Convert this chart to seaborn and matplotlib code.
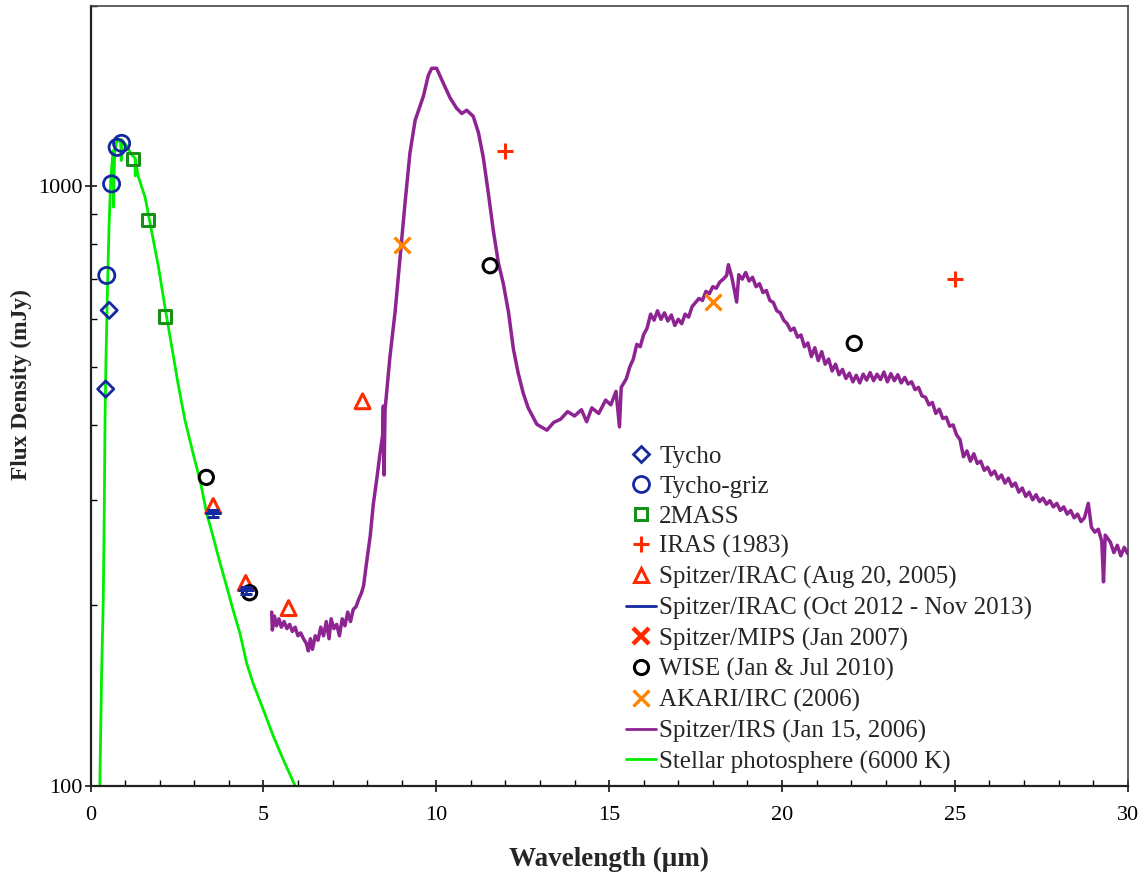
import matplotlib
matplotlib.use("Agg")
import matplotlib.pyplot as plt
from matplotlib.lines import Line2D
from matplotlib.ticker import FixedLocator, NullFormatter, MultipleLocator
import seaborn as sns
import numpy as np

# ---------------- photometry (wavelength in um, flux density in mJy) ----------------
tycho_wl = [0.44, 0.54]
tycho_flux = [459, 621]

griz_wl = [0.47, 0.61, 0.77, 0.90]
griz_flux = [710, 1009, 1161, 1179]

tmass_wl = [1.235, 1.662, 2.159]
tmass_flux = [1111, 879, 607]

iras_wl = [12.0, 25.0]
iras_flux = [1147, 701]

irac05_wl = [3.55, 4.49, 5.73, 7.87]
irac05_flux = [293, 218, 198, 438]

irac13_wl = [3.55, 4.49]
irac13_flux = [285, 212]
irac13_err = [4, 3]

mips_wl = []
mips_flux = []

wise_wl = [3.35, 4.60, 11.56, 22.09]
wise_flux = [327, 210, 737, 547]

akari_wl = [9.0, 18.0]
akari_flux = [799, 640]

# ---------------- Spitzer/IRS spectrum ----------------
irs_wl = [5.24, 5.26, 5.32, 5.38, 5.45, 5.52, 5.60, 5.68, 5.76, 5.84, 5.92, 6.00, 6.08, 6.16,
          6.24, 6.30, 6.36, 6.42, 6.50, 6.58, 6.66, 6.74, 6.82, 6.90, 6.96, 7.04, 7.12, 7.20,
          7.28, 7.36, 7.44, 7.52, 7.60, 7.68, 7.76, 7.84, 7.90, 7.99, 8.09, 8.18, 8.28, 8.37,
          8.45, 8.47, 8.49, 8.52, 8.66, 8.81, 8.95, 9.10, 9.24, 9.39, 9.63, 9.77, 9.87, 10.01,
          10.21, 10.40, 10.59, 10.74, 10.88, 11.07, 11.22, 11.36, 11.51, 11.65, 11.80, 11.94,
          12.09, 12.23, 12.37, 12.52, 12.66, 12.91,
          13.00, 13.20, 13.40, 13.60, 13.80, 14.00, 14.20, 14.35, 14.50, 14.70, 14.90, 15.05,
          15.20, 15.30, 15.35, 15.50, 15.60, 15.70, 15.80, 15.90, 16.00, 16.10, 16.20, 16.30,
          16.40, 16.50, 16.60, 16.70, 16.80, 16.90, 17.00, 17.10, 17.20, 17.30, 17.40, 17.50,
          17.60, 17.70, 17.80, 17.90, 18.00, 18.10, 18.20, 18.30, 18.40, 18.45, 18.55, 18.69,
          18.75, 18.85, 18.95, 19.05, 19.15, 19.25, 19.35, 19.45, 19.55, 19.65, 19.75, 19.85,
          19.95, 20.05, 20.15, 20.25, 20.35, 20.45, 20.55, 20.65, 20.75, 20.85, 20.95, 21.05,
          21.15, 21.25, 21.35, 21.45, 21.55, 21.65, 21.75, 21.85, 21.95, 22.05, 22.15, 22.25,
          22.35, 22.45, 22.55, 22.65, 22.75, 22.85, 22.95, 23.05, 23.15, 23.25, 23.35, 23.45,
          23.55, 23.65, 23.75, 23.85, 23.95, 24.05, 24.15, 24.25, 24.35, 24.45, 24.55, 24.65,
          24.75, 24.85, 24.95, 25.05, 25.15, 25.25, 25.35, 25.45, 25.55, 25.65, 25.75, 25.85,
          25.95, 26.05, 26.15, 26.25, 26.35, 26.45, 26.55, 26.65, 26.75, 26.85, 26.95, 27.05,
          27.15, 27.25, 27.35, 27.45, 27.55, 27.65, 27.75, 27.85, 27.95, 28.05, 28.15, 28.25,
          28.35, 28.45, 28.55, 28.65, 28.75, 28.86, 28.95, 29.05, 29.15, 29.25, 29.30, 29.35,
          29.50, 29.60, 29.70, 29.80, 29.90, 30.00]
irs_flux = [195, 182, 192, 185, 190, 184, 188, 183, 186, 181, 184, 178, 180, 176,
            173, 168, 176, 169, 178, 175, 184, 178, 188, 176, 190, 183, 186, 178,
            190, 185, 195, 188, 197, 199, 205, 210, 216, 237, 261, 295, 325, 357,
            385, 430, 330, 424, 519, 617, 756, 941, 1137, 1288, 1414, 1530, 1573, 1573,
            1483, 1404, 1349, 1322, 1339, 1308, 1229, 1118, 971, 844, 744, 688,
            617, 536, 488, 451, 427, 401,
            398, 392, 404, 409, 421, 414, 424, 405, 427, 418, 440, 432,
            455, 397, 462, 478, 500, 515, 545, 540, 566, 580, 612, 598,
            620, 600, 615, 596, 610, 586, 600, 590, 612, 605, 630, 640,
            650, 645, 668, 662, 680, 676, 692, 700, 710, 740, 705, 641,
            712, 700, 718, 695, 705, 680, 688, 665, 670, 645, 640, 620,
            615, 598, 590, 575, 580, 560, 565, 540, 548, 520, 538, 512,
            530, 505, 515, 492, 505, 485, 495, 478, 488, 472, 484, 470,
            486, 475, 489, 474, 486, 476, 490, 472, 487, 474, 485, 470,
            480, 468, 472, 458, 462, 447, 445, 432, 436, 418, 425, 410,
            412, 398, 400, 385, 378, 354, 362, 348, 358, 345, 348, 336,
            340, 330, 335, 325, 330, 320, 326, 316, 320, 309, 314, 304,
            309, 300, 306, 298, 302, 295, 299, 292, 296, 288, 292, 284,
            288, 280, 284, 276, 280, 296, 270, 265, 268, 256, 219, 262,
            255, 245, 252, 242, 250, 244]

# ---------------- 6000 K stellar photosphere model ----------------
phot_wl = [0.27, 0.32, 0.37, 0.40, 0.42, 0.45, 0.49, 0.535, 0.59, 0.64, 0.66, 0.665, 0.70,
           0.76, 0.86, 0.88, 0.89, 0.90, 1.05, 1.19, 1.29, 1.295, 1.30, 1.38, 1.58, 1.77,
           1.96, 2.16, 2.35, 2.54, 2.73, 2.97, 3.17, 3.36, 3.55, 3.75, 3.94, 4.13, 4.32,
           4.52, 4.71, 5.00, 5.29, 5.58, 5.92]
phot_flux = [100, 153, 205, 294, 409, 522, 668, 855, 1039, 1120, 1147, 923, 1150,
             1186, 1195, 1161, 1104, 1196, 1167, 1129, 1114, 1040, 1105, 1039, 958, 840,
             737, 626, 540, 466, 408, 358, 323, 285, 260, 235, 215, 196, 180,
             160, 148, 134, 121, 110.5, 100]

labels = ["Tycho", "Tycho-griz", "2MASS", "IRAS (1983)", "Spitzer/IRAC (Aug 20, 2005)",
          "Spitzer/IRAC (Oct 2012 - Nov 2013)", "Spitzer/MIPS (Jan 2007)",
          "WISE (Jan & Jul 2010)", "AKARI/IRC (2006)", "Spitzer/IRS (Jan 15, 2006)",
          "Stellar photosphere (6000 K)"]

c_blue = "#1428a0"
c_green = "#169016"
c_red = "#ff2a00"
c_orange = "#ff8400"
c_purple = "#8e2392"
c_lime = "#00ee00"

sns.set_style("ticks")
plt.rcParams["font.family"] = ["Liberation Serif", "DejaVu Serif"]

fig = plt.figure(figsize=(11.48, 8.82), dpi=100)
ax = fig.add_axes([90.5 / 1148, 1 - 786 / 882, (1127.7 - 90.5) / 1148, (786 - 5.7) / 882])

# continuous curves
sns.lineplot(x=irs_wl, y=irs_flux, sort=False, color=c_purple, linewidth=2.5, ax=ax,
             estimator=None, zorder=2)
sns.lineplot(x=phot_wl, y=phot_flux, sort=False, color=c_lime, linewidth=2.0, ax=ax,
             estimator=None, zorder=2)

# photometric points
sns.scatterplot(x=tycho_wl, y=tycho_flux, marker="D", s=68, facecolor="none",
                edgecolor=c_blue, linewidth=2, ax=ax, zorder=4)
sns.scatterplot(x=griz_wl, y=griz_flux, marker="o", s=135, facecolor="none",
                edgecolor=c_blue, linewidth=2, ax=ax, zorder=4)
sns.scatterplot(x=tmass_wl, y=tmass_flux, marker="s", s=82, facecolor="none",
                edgecolor=c_green, linewidth=2.2, ax=ax, zorder=4)
sns.scatterplot(x=iras_wl, y=iras_flux, marker="+", s=130, color=c_red,
                linewidth=2.2, ax=ax, zorder=4)
sns.scatterplot(x=irac05_wl, y=irac05_flux, marker="^", s=115, facecolor="none",
                edgecolor=c_red, linewidth=2.2, ax=ax, zorder=4)
ax.errorbar(irac13_wl, irac13_flux, yerr=irac13_err, fmt="_", color=c_blue, ms=12,
            mew=2.2, elinewidth=1.8, capsize=4, capthick=2, zorder=5)
sns.scatterplot(x=wise_wl, y=wise_flux, marker="o", s=105, facecolor="none",
                edgecolor="black", linewidth=2.2, ax=ax, zorder=4)
sns.scatterplot(x=akari_wl, y=akari_flux, marker="x", s=130, color=c_orange,
                linewidth=2.4, ax=ax, zorder=4)

ax.set_xlim(0, 30)
ax.set_yscale("log")
ax.set_ylim(100, 2000)
ax.xaxis.set_major_locator(MultipleLocator(5))
ax.xaxis.set_minor_locator(MultipleLocator(1))
ax.yaxis.set_major_locator(FixedLocator([100, 1000]))
ax.yaxis.set_minor_locator(FixedLocator([200, 300, 400, 500, 600, 700, 800, 900, 2000]))
ax.yaxis.set_minor_formatter(NullFormatter())
ax.set_yticklabels(["100", "1000"])

ax.tick_params(axis="both", which="major", direction="inout", length=9, width=1.1,
               labelsize=16, color="black", labelcolor="black", pad=6)
ax.tick_params(axis="both", which="minor", direction="in", length=4, width=1.0, color="black")
ax.tick_params(axis="y", which="major", pad=1)
ax.tick_params(axis="x", which="major", pad=10)

for side in ["left", "bottom"]:
    ax.spines[side].set_linewidth(1.6)
    ax.spines[side].set_color("#222222")
for side in ["top", "right"]:
    ax.spines[side].set_linewidth(1.2)
    ax.spines[side].set_color("#444444")

ax.set_xlabel("Wavelength (μm)", fontsize=19.5, fontweight="bold")
ax.set_ylabel("Flux Density (mJy)", fontsize=16.8, fontweight="bold")
ax.xaxis.set_label_coords(0.5, -0.078)
ax.yaxis.set_label_coords(-0.0565, 0.514)

handles = [
    Line2D([], [], ls="", marker="D", ms=8.2, mfc="none", mec=c_blue, mew=2),
    Line2D([], [], ls="", marker="o", ms=11.5, mfc="none", mec=c_blue, mew=2),
    Line2D([], [], ls="", marker="s", ms=9, mfc="none", mec=c_green, mew=2.2),
    Line2D([], [], ls="", marker="+", ms=11.4, color=c_red, mew=2.2),
    Line2D([], [], ls="", marker="^", ms=10.7, mfc="none", mec=c_red, mew=2.2),
    Line2D([], [], color=c_blue, lw=2),
    Line2D([], [], ls="", marker="x", ms=11.4, color=c_red, mew=3.2),
    Line2D([], [], ls="", marker="o", ms=10.2, mfc="none", mec="black", mew=2.2),
    Line2D([], [], ls="", marker="x", ms=11.4, color=c_orange, mew=2.4),
    Line2D([], [], color=c_purple, lw=2),
    Line2D([], [], color=c_lime, lw=2),
]
ax.legend(handles, labels, loc="upper left", bbox_to_anchor=(626 / 1148, 1 - 445 / 882),
          bbox_transform=fig.transFigure, frameon=False, fontsize=18,
          handlelength=1.2, handletextpad=0.12, labelspacing=0.305, borderpad=0,
          borderaxespad=0)

fig.savefig("out.png", dpi=100)
